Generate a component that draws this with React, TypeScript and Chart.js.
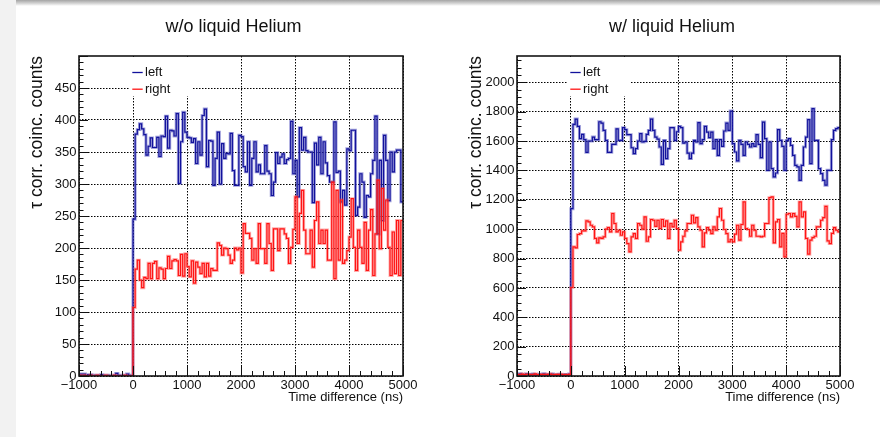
import React, { useEffect, useRef } from 'react';
import { Chart, registerables } from 'chart.js';

Chart.register(...registerables);
Chart.defaults.font.family = '"Liberation Sans", Arial, Helvetica, sans-serif';

// Histogram binning: 150 bins of 40 ns from -1000 to 5000 ns
const HIST_MIN = -1000;
const HIST_MAX = 5000;

const xTickValues = [-1000, 0, 1000, 2000, 3000, 4000, 5000];
const yTicksNoHelium = [0, 50, 100, 150, 200, 250, 300, 350, 400, 450];
const yTicksHelium = [0, 200, 400, 600, 800, 1000, 1200, 1400, 1600, 1800, 2000];

const titleNoHelium = 'w/o liquid Helium';
const titleHelium = 'w/ liquid Helium';
const xAxisTitle = 'Time difference (ns)';
const yAxisTitle = 'τ corr. coinc. counts';
const seriesNames = ['left', 'right'];

// w/o liquid Helium, left detector (counts per bin)
const noHeliumLeft = [
  3, 3, 3, 1, 2, 2, 0, 1, 1, 1, 2, 1, 0, 1, 0, 0, 1, 4, 1, 0, 1, 0, 3, 1, 0,
  245, 378, 385, 394, 386, 377, 345, 359, 372, 357,
  357, 373, 343, 375, 374, 406, 356, 384, 383, 375,
  410, 301, 366, 412, 381, 373, 372, 365, 371, 332,
  366, 345, 407, 417, 327, 368, 367, 298, 340, 381,
  300, 363, 340, 348, 347, 379, 321, 298, 298, 376,
  374, 327, 319, 366, 298, 340, 366, 319, 330, 316,
  316, 360, 320, 316, 282, 303, 349, 332, 342, 347,
  332, 338, 340, 398, 316, 337, 280, 388, 353, 373,
  352, 350, 350, 271, 364, 330, 373, 316, 366, 333,
  313, 303, 303, 397, 318, 320, 272, 290, 267, 355,
  352, 384, 384, 251, 264, 316, 303, 248, 282, 280,
  316, 337, 406, 222, 337, 243, 376, 337, 274, 350,
  319, 350, 353, 353, 272,
];

// w/o liquid Helium, right detector
const noHeliumRight = [
  1, 0, 1, 0, 0, 1, 0, 0, 1, 0, 0, 0, 1, 0, 0, 0, 1, 0, 0, 0, 0, 1, 0, 0, 0,
  107, 167, 181, 150, 138, 154, 152, 176, 152, 176,
  179, 152, 169, 167, 152, 168, 187, 168, 180, 182,
  180, 157, 190, 156, 191, 171, 155, 180, 145, 178,
  170, 160, 176, 155, 176, 156, 168, 165, 165, 208,
  204, 189, 200, 199, 189, 176, 181, 200, 197, 200,
  161, 238, 223, 223, 215, 181, 199, 176, 238, 199,
  199, 176, 238, 207, 165, 230, 230, 196, 230, 230,
  222, 215, 176, 201, 229, 280, 207, 254, 290, 228,
  191, 191, 228, 170, 243, 272, 207, 228, 207, 228,
  181, 181, 303, 152, 290, 181, 275, 176, 181, 196,
  217, 277, 201, 165, 228, 201, 176, 240, 165, 228,
  260, 157, 222, 306, 199, 293, 228, 275, 201, 157,
  225, 160, 243, 157, 243,
];

// w/ liquid Helium, left detector
const heliumLeft = [
  12, 15, 10, 8, 14, 9, 11, 13, 7, 10, 12, 9, 15, 8, 11, 10, 13, 9, 6, 12, 10, 8, 11, 9, 13,
  1140, 1714, 1750, 1700, 1617, 1646, 1610, 1524, 1601, 1601,
  1628, 1610, 1610, 1732, 1723, 1673, 1605, 1524, 1524, 1578,
  1578, 1683, 1605, 1605, 1692, 1678, 1644, 1644, 1555, 1515,
  1549, 1601, 1651, 1594, 1599, 1646, 1673, 1750, 1673, 1628,
  1614, 1560, 1442, 1605, 1481, 1549, 1692, 1692, 1605, 1664,
  1700, 1692, 1587, 1594, 1519, 1481, 1519, 1605, 1594, 1726,
  1583, 1610, 1700, 1662, 1624, 1662, 1549, 1610, 1503, 1610,
  1565, 1669, 1723, 1673, 1805, 1583, 1526, 1465, 1605, 1578,
  1503, 1594, 1578, 1560, 1583, 1565, 1644, 1578, 1487, 1730,
  1617, 1401, 1594, 1413, 1356, 1383, 1678, 1605, 1565, 1401,
  1605, 1617, 1571, 1503, 1435, 1424, 1333, 1435, 1560, 1628,
  1746, 1447, 1821, 1605, 1605, 1413, 1379, 1333, 1300, 1401,
  1401, 1610, 1673, 1685, 1692,
];

// w/ liquid Helium, right detector
const heliumRight = [
  10, 8, 13, 9, 12, 11, 7, 10, 14, 9, 8, 11, 10, 12, 9, 13, 8, 10, 11, 9, 12, 7, 10, 8, 11,
  603, 880, 873, 964, 970, 989, 989, 1057, 1050, 1027,
  1016, 937, 907, 941, 937, 948, 1000, 1011, 982, 1107,
  1039, 982, 993, 959, 982, 937, 902, 846, 948, 970,
  937, 1039, 1027, 1000, 1084, 918, 948, 1066, 1061, 1020,
  1061, 1005, 1066, 1020, 1057, 937, 1039, 1016, 1061, 1005,
  857, 914, 952, 989, 1039, 1039, 1095, 1043, 1079, 1016,
  993, 880, 975, 1011, 993, 970, 1016, 993, 1084, 1141,
  1061, 998, 970, 914, 930, 914, 966, 1027, 925, 1032,
  1186, 1005, 998, 952, 1027, 993, 952, 952, 948, 952,
  1039, 1039, 1215, 1220, 907, 1050, 1066, 880, 971, 812,
  1102, 1107, 1084, 1107, 1088, 1016, 1186, 1084, 1118, 937,
  830, 925, 943, 952, 1016, 1016, 1061, 1079, 1156, 920,
  902, 971, 1011, 993, 982,
];

const BLUE = '#12129c';
const BLUE_HALO = 'rgba(70, 70, 185, 0.5)';
const RED = '#ff1414';
const RED_HALO = 'rgba(255, 70, 70, 0.45)';
const INK = '#111111';

// Step outline points: each bin's low edge, plus the final upper edge
function histSteps(counts: number[]) {
  const w = (HIST_MAX - HIST_MIN) / counts.length;
  const pts = counts.map((c, i) => ({ x: HIST_MIN + i * w, y: c }));
  pts.push({ x: HIST_MAX, y: counts[counts.length - 1] });
  return pts;
}

const fmtTick = (v: number) => (v < 0 ? '\u2212' + Math.abs(v) : String(v));

// Frame, inside tick marks, legend and pad title drawn in the ROOT manner
const rootPad = {
  id: 'rootPad',
  afterDatasetsDraw(chart: any, _args: any, opts: any) {
    const { ctx, chartArea: a, scales } = chart;
    const xs = scales.x;
    const ys = scales.y;
    ctx.save();

    // legend
    const lx = a.left + 51;
    ctx.fillStyle = '#ffffff';
    ctx.fillRect(lx, a.top + 1, 63, 39);
    ctx.font = '13px "Liberation Sans", Arial, sans-serif';
    ctx.textBaseline = 'middle';
    ctx.textAlign = 'left';
    opts.legend.forEach((item: any, i: number) => {
      const ly = a.top + 16.5 + i * 16.7;
      ctx.strokeStyle = item.color;
      ctx.lineWidth = 1.3;
      ctx.beginPath();
      ctx.moveTo(a.left + 53.3, ly);
      ctx.lineTo(a.left + 63.7, ly);
      ctx.stroke();
      ctx.fillStyle = INK;
      ctx.fillText(item.label, a.left + 66, ly);
    });

    // tick marks
    ctx.strokeStyle = INK;
    ctx.lineWidth = 1;
    ctx.beginPath();
    for (let v = xs.min; v <= xs.max + 1e-6; v += opts.xMinor) {
      const px = Math.round(xs.getPixelForValue(v)) + 0.5;
      const major = Math.abs(Math.round(v / opts.xMajor) * opts.xMajor - v) < 1e-6;
      ctx.moveTo(px, a.bottom);
      ctx.lineTo(px, a.bottom - (major ? 10 : 5));
    }
    for (let v = ys.min; v <= ys.max + 1e-6; v += opts.yMinor) {
      const py = Math.round(ys.getPixelForValue(v)) + 0.5;
      const major = Math.abs(Math.round(v / opts.yMajor) * opts.yMajor - v) < 1e-6;
      ctx.moveTo(a.left, py);
      ctx.lineTo(a.left + (major ? 9 : 4.5), py);
    }
    ctx.stroke();

    // frame
    ctx.lineWidth = 1.6;
    ctx.strokeStyle = '#151515';
    ctx.strokeRect(a.left, a.top, a.right - a.left, a.bottom - a.top);
    ctx.restore();
  },
  afterDraw(chart: any, _args: any, opts: any) {
    const { ctx } = chart;
    ctx.save();
    ctx.font = '18px "Liberation Sans", Arial, sans-serif';
    ctx.fillStyle = INK;
    ctx.textAlign = 'center';
    ctx.textBaseline = 'middle';
    ctx.fillText(opts.title, opts.titleX, 27);
    ctx.restore();
  },
};

type PanelSpec = {
  left: number;
  width: number;
  yWidth: number;
  padRight: number;
  titleX: number;
  yTitlePad: number;
  yMax: number;
  yTicks: number[];
  yMinor: number;
  yMajor: number;
  title: string;
  leftCounts: number[];
  rightCounts: number[];
};

function makeConfig(s: PanelSpec): any {
  const gridCommon = { color: '#000000', lineWidth: 1, drawTicks: false };
  const borderCommon = { display: false, dash: [1.5, 1.5] };
  return {
    type: 'line',
    data: {
      datasets: [
        { label: seriesNames[1], data: histSteps(s.rightCounts), borderColor: RED, borderWidth: 1.2, order: 0 },
        { label: seriesNames[1] + ' halo', data: histSteps(s.rightCounts), borderColor: RED_HALO, borderWidth: 3, order: 1 },
        { label: seriesNames[0], data: histSteps(s.leftCounts), borderColor: BLUE, borderWidth: 1.2, order: 2 },
        { label: seriesNames[0] + ' halo', data: histSteps(s.leftCounts), borderColor: BLUE_HALO, borderWidth: 3, order: 3 },
      ].map((d) => ({ ...d, stepped: 'before', pointRadius: 0, fill: false, tension: 0 })),
    },
    options: {
      animation: false,
      responsive: false,
      devicePixelRatio: 1,
      events: [],
      layout: { padding: { top: 56, right: s.padRight, bottom: 0, left: 0 } },
      plugins: {
        legend: { display: false },
        tooltip: { enabled: false },
        title: { display: false },
        rootPad: {
          title: s.title,
          titleX: s.titleX,
          xMinor: 200,
          xMajor: 1000,
          yMinor: s.yMinor,
          yMajor: s.yMajor,
          legend: [
            { label: seriesNames[0], color: BLUE },
            { label: seriesNames[1], color: RED },
          ],
        },
      },
      scales: {
        x: {
          type: 'linear',
          min: HIST_MIN,
          max: HIST_MAX,
          afterBuildTicks: (sc: any) => {
            sc.ticks = xTickValues.map((v) => ({ value: v }));
          },
          afterFit: (sc: any) => {
            sc.height = 61;
          },
          ticks: {
            autoSkip: false,
            maxRotation: 0,
            padding: 2,
            color: INK,
            font: { size: 13 },
            callback: (v: number) => fmtTick(v),
          },
          grid: gridCommon,
          border: borderCommon,
          title: {
            display: true,
            text: xAxisTitle,
            align: 'end',
            color: INK,
            font: { size: 13 },
            padding: { top: 0, bottom: 32.2 },
          },
        },
        y: {
          type: 'linear',
          min: 0,
          max: s.yMax,
          afterBuildTicks: (sc: any) => {
            sc.ticks = s.yTicks.map((v) => ({ value: v }));
          },
          afterFit: (sc: any) => {
            sc.width = s.yWidth;
          },
          ticks: { padding: 2.5, color: INK, font: { size: 13 }, callback: (v: number) => fmtTick(v) },
          grid: gridCommon,
          border: borderCommon,
          title: {
            display: true,
            text: yAxisTitle,
            align: 'end',
            color: INK,
            font: { size: 17.5 },
            padding: { top: s.yTitlePad, bottom: 0 },
          },
        },
      },
    },
    plugins: [rootPad],
  };
}

function HistPanel({ spec }: { spec: PanelSpec }) {
  const ref = useRef<HTMLCanvasElement>(null);
  useEffect(() => {
    if (!ref.current) return;
    const chart = new Chart(ref.current, makeConfig(spec));
    return () => chart.destroy();
  }, [spec]);
  return (
    <canvas
      ref={ref}
      width={spec.width}
      height={437}
      style={{ position: 'absolute', left: spec.left, top: 0, width: spec.width, height: 437 }}
    />
  );
}

const panels: PanelSpec[] = [
  {
    left: 16,
    width: 435,
    yWidth: 63,
    padRight: 48,
    titleX: 217.5,
    yTitlePad: 10.3,
    yMax: 500,
    yTicks: yTicksNoHelium,
    yMinor: 10,
    yMajor: 50,
    title: titleNoHelium,
    leftCounts: noHeliumLeft,
    rightCounts: noHeliumRight,
  },
  {
    left: 464,
    width: 416,
    yWidth: 53,
    padRight: 40,
    titleX: 208,
    yTitlePad: 2,
    yMax: 2180,
    yTicks: yTicksHelium,
    yMinor: 50,
    yMajor: 200,
    title: titleHelium,
    leftCounts: heliumLeft,
    rightCounts: heliumRight,
  },
];

export default function App() {
  return (
    <div style={{ position: 'relative', width: 880, height: 437, background: '#ffffff', overflow: 'hidden' }}>
      <style>{'body{margin:0;}'}</style>
      <div style={{ position: 'absolute', left: 0, top: 0, width: 16, height: 437, background: '#f2f2f2' }} />
      <div
        style={{
          position: 'absolute',
          left: 16,
          top: 0,
          width: 864,
          height: 6,
          background: 'linear-gradient(#a4a4a4, #d8d8d8 60%, #ffffff)',
        }}
      />
      {panels.map((p) => (
        <HistPanel key={p.title} spec={p} />
      ))}
    </div>
  );
}
